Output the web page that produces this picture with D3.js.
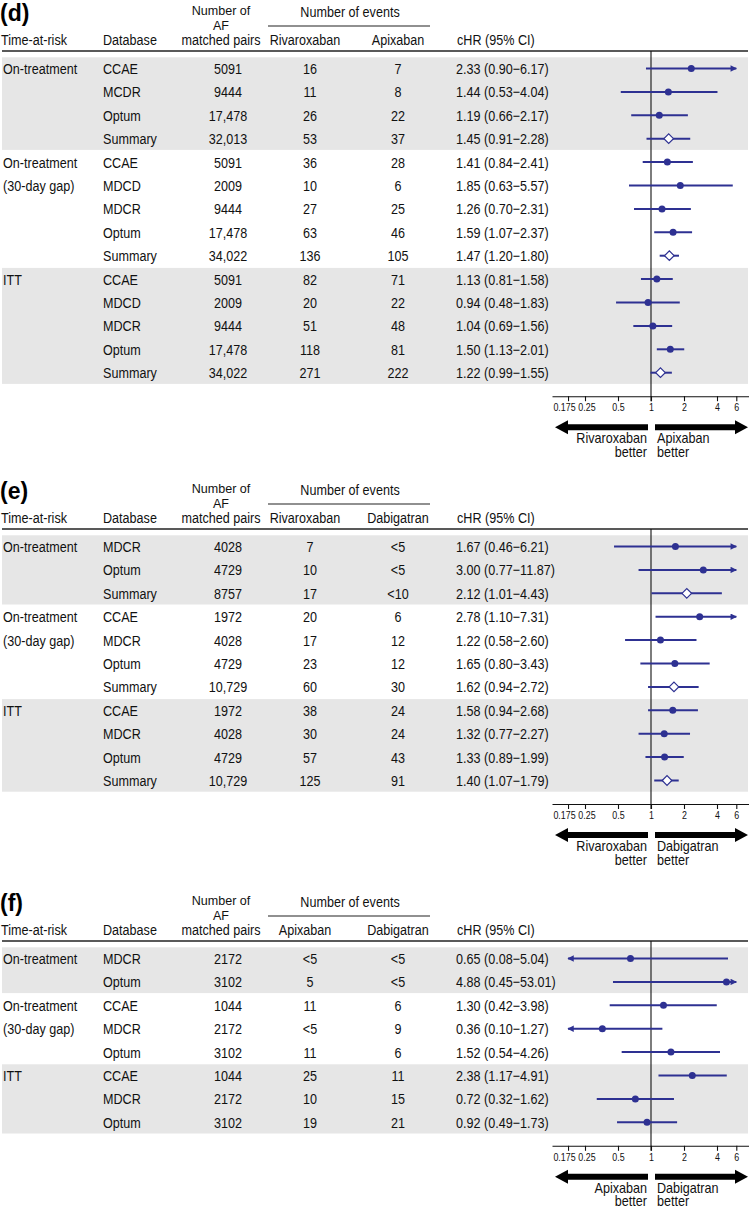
<!DOCTYPE html>
<html><head><meta charset="utf-8">
<script src="https://cdn.jsdelivr.net/npm/d3@7"></script>
<style>
html,body{margin:0;padding:0;background:#fff;}
svg{display:block;font-family:"Liberation Sans",Arial,Helvetica,sans-serif;}
</style></head>
<body>
<svg id="chart" width="749" height="1208"></svg>
<script>
// ---------- Panel (d) Rivaroxaban vs Apixaban ----------
const dLabel = "(d)";
const dDrugs = ["Rivaroxaban", "Apixaban"];
const dGroups = [["On-treatment"], ["On-treatment", "(30-day gap)"], ["ITT"]];
const dGroupSizes = [4, 5, 5];
const dDatabase = ["CCAE","MCDR","Optum","Summary","CCAE","MDCD","MDCR","Optum","Summary","CCAE","MDCD","MDCR","Optum","Summary"];
const dPairs = ["5091","9444","17,478","32,013","5091","2009","9444","17,478","34,022","5091","2009","9444","17,478","34,022"];
const dEventsA = ["16","11","26","53","36","10","27","63","136","82","20","51","118","271"];
const dEventsB = ["7","8","22","37","28","6","25","46","105","71","22","48","81","222"];
const dHR = [2.33,1.44,1.19,1.45,1.41,1.85,1.26,1.59,1.47,1.13,0.94,1.04,1.50,1.22];
const dLo = [0.90,0.53,0.66,0.91,0.84,0.63,0.70,1.07,1.20,0.81,0.48,0.69,1.13,0.99];
const dHi = [6.17,4.04,2.17,2.28,2.41,5.57,2.31,2.37,1.80,1.58,1.83,1.56,2.01,1.55];

// ---------- Panel (e) Rivaroxaban vs Dabigatran ----------
const eLabel = "(e)";
const eDrugs = ["Rivaroxaban", "Dabigatran"];
const eGroups = [["On-treatment"], ["On-treatment", "(30-day gap)"], ["ITT"]];
const eGroupSizes = [3, 4, 4];
const eDatabase = ["MDCR","Optum","Summary","CCAE","MDCR","Optum","Summary","CCAE","MDCR","Optum","Summary"];
const ePairs = ["4028","4729","8757","1972","4028","4729","10,729","1972","4028","4729","10,729"];
const eEventsA = ["7","10","17","20","17","23","60","38","30","57","125"];
const eEventsB = ["<5","<5","<10","6","12","12","30","24","24","43","91"];
const eHR = [1.67,3.00,2.12,2.78,1.22,1.65,1.62,1.58,1.32,1.33,1.40];
const eLo = [0.46,0.77,1.01,1.10,0.58,0.80,0.94,0.94,0.77,0.89,1.07];
const eHi = [6.21,11.87,4.43,7.31,2.60,3.43,2.72,2.68,2.27,1.99,1.79];

// ---------- Panel (f) Apixaban vs Dabigatran ----------
const fLabel = "(f)";
const fDrugs = ["Apixaban", "Dabigatran"];
const fGroups = [["On-treatment"], ["On-treatment", "(30-day gap)"], ["ITT"]];
const fGroupSizes = [2, 3, 3];
const fDatabase = ["MDCR","Optum","CCAE","MDCR","Optum","CCAE","MDCR","Optum"];
const fPairs = ["2172","3102","1044","2172","3102","1044","2172","3102"];
const fEventsA = ["<5","5","11","<5","11","25","10","19"];
const fEventsB = ["<5","<5","6","9","6","11","15","21"];
const fHR = [0.65,4.88,1.30,0.36,1.52,2.38,0.72,0.92];
const fLo = [0.08,0.45,0.42,0.10,0.54,1.17,0.32,0.49];
const fHi = [5.04,53.01,3.98,1.27,4.26,4.91,1.62,1.73];

const tickValues = [0.175, 0.25, 0.5, 1, 2, 4, 6];
const tickLabels = ["0.175", "0.25", "0.5", "1", "2", "4", "6"];
const axisDomain = [0.125, 8];
const clipDomain = [0.175, 6];

const panels = [
  {label:dLabel, drugs:dDrugs, groups:dGroups, sizes:dGroupSizes, db:dDatabase, pairs:dPairs, a:dEventsA, b:dEventsB, hr:dHR, lo:dLo, hi:dHi, lineY:51},
  {label:eLabel, drugs:eDrugs, groups:eGroups, sizes:eGroupSizes, db:eDatabase, pairs:ePairs, a:eEventsA, b:eEventsB, hr:eHR, lo:eLo, hi:eHi, lineY:529},
  {label:fLabel, drugs:fDrugs, groups:fGroups, sizes:fGroupSizes, db:fDatabase, pairs:fPairs, a:fEventsA, b:fEventsB, hr:fHR, lo:fLo, hi:fHi, lineY:941}
];

const svg = d3.select("#chart");
const BLUE = "#2e3192";
const GREY = "#e6e6e6";
const ROW = 23.4;
const SX = 0.84;   // horizontal squeeze of the reference typography
const x = d3.scaleLog().domain(axisDomain).range([552, 750]);
const fmt = v => v.toFixed(2);

const defs = svg.append("defs");
defs.append("marker").attr("id","tri").attr("viewBox","0 0 10 10").attr("refX",9).attr("refY",5)
  .attr("markerWidth",3.4).attr("markerHeight",3.2).attr("orient","auto-start-reverse")
  .append("path").attr("d","M0,0L10,5L0,10Z").attr("fill",BLUE);

function txt(g, xx, yy, s, anchor, opts={}) {
  const sx = opts.sx || SX;
  return g.append("text").attr("transform", `translate(${xx},${yy}) scale(${sx},1)`)
    .attr("dy","0.36em")
    .attr("text-anchor", anchor || "start")
    .attr("font-size", opts.size || 15)
    .attr("font-weight", opts.weight || "normal")
    .attr("fill", opts.fill || "#111")
    .text(s);
}

panels.forEach((p, pi) => {
  const g = svg.append("g");
  const L = p.lineY;
  const n = p.db.length;
  const rowY = i => L + 17.5 + i * ROW;

  // group bands and group labels
  let start = 0;
  p.sizes.forEach((sz, gi) => {
    if (gi % 2 === 0) {
      g.append("rect").attr("x", 2).attr("width", 746)
        .attr("y", rowY(start) - 11.2).attr("height", (sz - 1) * ROW + 22.4)
        .attr("fill", GREY);
    }
    p.groups[gi].forEach((t, k) => txt(g, 3, rowY(start + k), t, "start"));
    start += sz;
  });

  // header
  txt(g, 0, L - 38, p.label, "start", {size: 23, weight: "bold", fill: "#000", sx: 1});
  txt(g, 1, L - 11, "Time-at-risk", "start");
  txt(g, 103, L - 11, "Database", "start");
  txt(g, 221, L - 40.5, "Number of", "middle", {size: 13.5, sx: 0.93});
  txt(g, 221, L - 26, "AF", "middle", {size: 13.5, sx: 0.93});
  txt(g, 221, L - 11, "matched pairs", "middle");
  txt(g, 350, L - 39, "Number of events", "middle");
  g.append("line").attr("x1", 268).attr("x2", 430).attr("y1", L - 25).attr("y2", L - 25)
    .attr("stroke", "#222").attr("stroke-width", 1.2);
  txt(g, 305, L - 11, p.drugs[0], "middle");
  txt(g, 398, L - 11, p.drugs[1], "middle");
  txt(g, 457, L - 11, "cHR (95% CI)", "start");
  g.append("line").attr("x1", 2).attr("x2", 748).attr("y1", L).attr("y2", L)
    .attr("stroke", "#222").attr("stroke-width", 1.5);

  // table cells
  for (let i = 0; i < n; i++) {
    const y = rowY(i);
    txt(g, 103, y, p.db[i], "start");
    txt(g, 228, y, p.pairs[i], "middle");
    txt(g, 310, y, p.a[i], "middle");
    txt(g, 398, y, p.b[i], "middle");
    txt(g, 456, y, fmt(p.hr[i]) + " (" + fmt(p.lo[i]) + "\u2212" + fmt(p.hi[i]) + ")", "start");
  }

  const axisY = rowY(n - 1) + 23.5;

  // reference line at HR = 1
  g.append("line").attr("x1", x(1)).attr("x2", x(1)).attr("y1", L).attr("y2", axisY + 5)
    .attr("stroke", "#111").attr("stroke-width", 1.1);

  // CIs and point estimates
  for (let i = 0; i < n; i++) {
    const y = rowY(i);
    const lo = Math.max(p.lo[i], clipDomain[0]);
    const hi = Math.min(p.hi[i], clipDomain[1]);
    const ln = g.append("line").attr("x1", x(lo)).attr("x2", x(hi)).attr("y1", y).attr("y2", y)
      .attr("stroke", BLUE).attr("stroke-width", 2);
    if (p.lo[i] < clipDomain[0]) ln.attr("marker-start", "url(#tri)");
    if (p.hi[i] > clipDomain[1]) ln.attr("marker-end", "url(#tri)");
    const cx = x(p.hr[i]);
    if (p.db[i] === "Summary") {
      const r = 4.8;
      g.append("path").attr("d", `M${cx - r},${y}L${cx},${y - r}L${cx + r},${y}L${cx},${y + r}Z`)
        .attr("fill", "#fff").attr("stroke", BLUE).attr("stroke-width", 1.2);
    } else {
      g.append("circle").attr("cx", cx).attr("cy", y).attr("r", 3.5).attr("fill", BLUE);
    }
  }

  // axis
  const axis = d3.axisBottom(x).tickValues(tickValues).tickFormat((d, i) => tickLabels[i])
    .tickSize(5).tickSizeOuter(0);
  const ag = g.append("g").attr("transform", `translate(0,${axisY})`).call(axis);
  ag.select(".domain").attr("stroke", "#111").attr("stroke-width", 1.1);
  ag.selectAll(".tick line").attr("stroke", "#111").attr("stroke-width", 1.1);
  ag.selectAll(".tick text")
    .attr("font-size", 10.6).attr("fill", "#111")
    .attr("font-family", '"Liberation Sans",Arial,sans-serif')
    .attr("x", null).attr("y", null).attr("dy", null)
    .attr("transform", d => `translate(${d === 0.175 ? -4 : (d === 0.25 ? 1.5 : 0)},${12}) scale(${SX},1)`)
    .attr("dominant-baseline", "middle");

  // direction arrows
  const ay = axisY + 31;
  const sh = 3, hh = 7, hl = 13;
  const lx1 = 555, lx2 = x(1) - 3;
  g.append("path").attr("d",
    `M${lx1},${ay}L${lx1 + hl},${ay - hh}L${lx1 + hl},${ay - sh}L${lx2},${ay - sh}L${lx2},${ay + sh}L${lx1 + hl},${ay + sh}L${lx1 + hl},${ay + hh}Z`)
    .attr("fill", "#000");
  const rx1 = x(1) + 4, rx2 = 748;
  g.append("path").attr("d",
    `M${rx2},${ay}L${rx2 - hl},${ay - hh}L${rx2 - hl},${ay - sh}L${rx1},${ay - sh}L${rx1},${ay + sh}L${rx2 - hl},${ay + sh}L${rx2 - hl},${ay + hh}Z`)
    .attr("fill", "#000");
  const ao = {size: 14, sx: 0.9};
  txt(g, x(1) - 4, axisY + 42, p.drugs[0], "end", ao);
  txt(g, x(1) - 4, axisY + 55.5, "better", "end", ao);
  txt(g, x(1) + 6, axisY + 42, p.drugs[1], "start", ao);
  txt(g, x(1) + 6, axisY + 55.5, "better", "start", ao);
});
</script>
</body></html>
